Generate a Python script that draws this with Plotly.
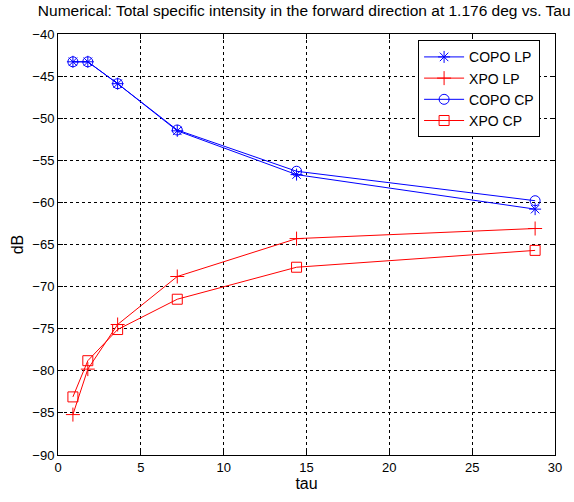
import plotly.graph_objects as go

tau = [0.9, 1.8, 3.6, 7.2, 14.4, 28.8]
copo_lp = [-43.3, -43.3, -45.9, -51.5, -56.7, -60.8]
xpo_lp = [-85.2, -79.8, -74.5, -68.8, -64.3, -63.1]
copo_cp = [-43.3, -43.3, -45.9, -51.4, -56.3, -59.8]
xpo_cp = [-83.1, -78.8, -75.1, -71.5, -67.7, -65.7]

x_ticks = [0, 5, 10, 15, 20, 25, 30]
y_ticks = [-40, -45, -50, -55, -60, -65, -70, -75, -80, -85, -90]

BLUE = "rgb(0,0,255)"
RED = "rgb(255,0,0)"

fig = go.Figure()
series = [
    ("COPO LP", copo_lp, BLUE, "asterisk-open"),
    ("XPO LP", xpo_lp, RED, "cross-thin-open"),
    ("COPO CP", copo_cp, BLUE, "circle-open"),
    ("XPO CP", xpo_cp, RED, "square-open"),
]
for name, vals, col, sym in series:
    fig.add_trace(go.Scatter(
        x=tau, y=vals, name=name, mode="lines+markers",
        line=dict(color=col, width=1),
        marker=dict(symbol=sym, size=10, color=col, line=dict(color=col, width=1)),
    ))

font = "Liberation Sans, Arial, sans-serif"
fig.update_layout(
    width=574, height=502,
    margin=dict(l=58, r=17, t=34, b=45),
    paper_bgcolor="white", plot_bgcolor="white",
    font=dict(family=font, size=13, color="black"),
    title=dict(text="Numerical: Total specific intensity in the forward direction at 1.176 deg vs. Tau",
               x=0.53, xanchor="center", y=0.99, yanchor="top", font=dict(size=15.5)),
    legend=dict(x=0.97, xanchor="right", y=0.985, yanchor="top",
                bgcolor="white", bordercolor="black", borderwidth=1,
                font=dict(size=14), tracegroupgap=0, itemwidth=40),
)
axis_common = dict(
    showline=True, linecolor="black", linewidth=1, mirror="ticks",
    ticks="inside", ticklen=5, tickcolor="black",
    showgrid=True, gridcolor="black", gridwidth=1, griddash="3px,3px",
    zeroline=False, tickfont=dict(size=13),
)
fig.update_xaxes(range=[0, 30], tickvals=x_ticks, title=dict(text="tau", standoff=4), **axis_common)
fig.update_yaxes(range=[-90, -40], tickvals=y_ticks, title=dict(text="dB", standoff=4), **axis_common)

fig.write_html("out.html")
